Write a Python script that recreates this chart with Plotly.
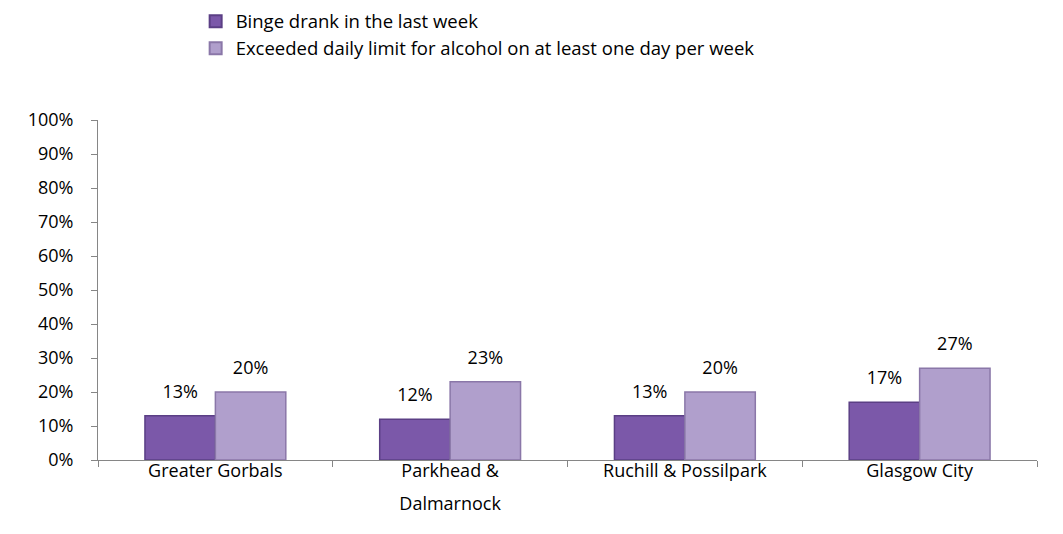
import plotly.graph_objects as go

categories = ["Greater Gorbals", "Parkhead & Dalmarnock", "Ruchill & Possilpark", "Glasgow City"]
category_labels = ["Greater Gorbals", "Parkhead &<br> <br>Dalmarnock", "Ruchill & Possilpark", "Glasgow City"]
binge = [13, 12, 13, 17]
exceeded = [20, 23, 20, 27]
series_names = ["Binge drank in the last week",
                "Exceeded daily limit for alcohol on at least one day per week"]
tick_vals = [0, 10, 20, 30, 40, 50, 60, 70, 80, 90, 100]
tick_text = [f"{v}%" for v in tick_vals]

font_family = "'Open Sans', sans-serif"
FS = 18
label_tpl = "<span style='font-size:18px'>%{text}</span><br> "
x_ticktext = [f"<span style='font-size:18px'>{c}</span>".replace("<br> <br>", "</span><br> <br><span style='font-size:18px'>")
              for c in category_labels]

fig = go.Figure()
fig.add_trace(go.Bar(
    x=categories, y=binge, name=series_names[0],
    marker=dict(color="#7b58a9", line=dict(color="#5b3f85", width=1.5)),
    text=[f"{v}%" for v in binge],
    texttemplate=label_tpl, textposition="outside", constraintext="none",
    textfont=dict(size=9, color="#000000", family=font_family),
    cliponaxis=False,
))
fig.add_trace(go.Bar(
    x=categories, y=exceeded, name=series_names[1],
    marker=dict(color="#b09fcc", line=dict(color="#8a77a8", width=1.5)),
    text=[f"{v}%" for v in exceeded],
    texttemplate=label_tpl, textposition="outside", constraintext="none",
    textfont=dict(size=9, color="#000000", family=font_family),
    cliponaxis=False,
))

fig.update_layout(
    width=1063, height=534,
    margin=dict(l=98, r=26, t=120, b=74, autoexpand=False),
    paper_bgcolor="white", plot_bgcolor="white",
    barmode="group", bargap=0.4, bargroupgap=0,
    font=dict(family=font_family, size=FS, color="#000000"),
    showlegend=True,
    legend=dict(orientation="v", x=0.104, xanchor="left", y=1.345, yanchor="top",
                font=dict(size=18.5), itemsizing="constant", itemwidth=30, tracegroupgap=0,
                bgcolor="rgba(0,0,0,0)"),
    xaxis=dict(showline=True, linecolor="#868686", linewidth=1,
               tickvals=categories, ticktext=x_ticktext,
               ticks="outside", tickson="boundaries", ticklen=6, tickcolor="#868686",
               showgrid=False, tickfont=dict(size=13)),
    yaxis=dict(range=[0, 100], tickvals=tick_vals, ticktext=tick_text,
               showline=True, linecolor="#868686", linewidth=1,
               ticks="outside", ticklen=6, tickcolor="#868686", ticklabelstandoff=14,
               showgrid=False, zeroline=False, tickfont=dict(size=FS)),
)

fig.write_html("out.html")
